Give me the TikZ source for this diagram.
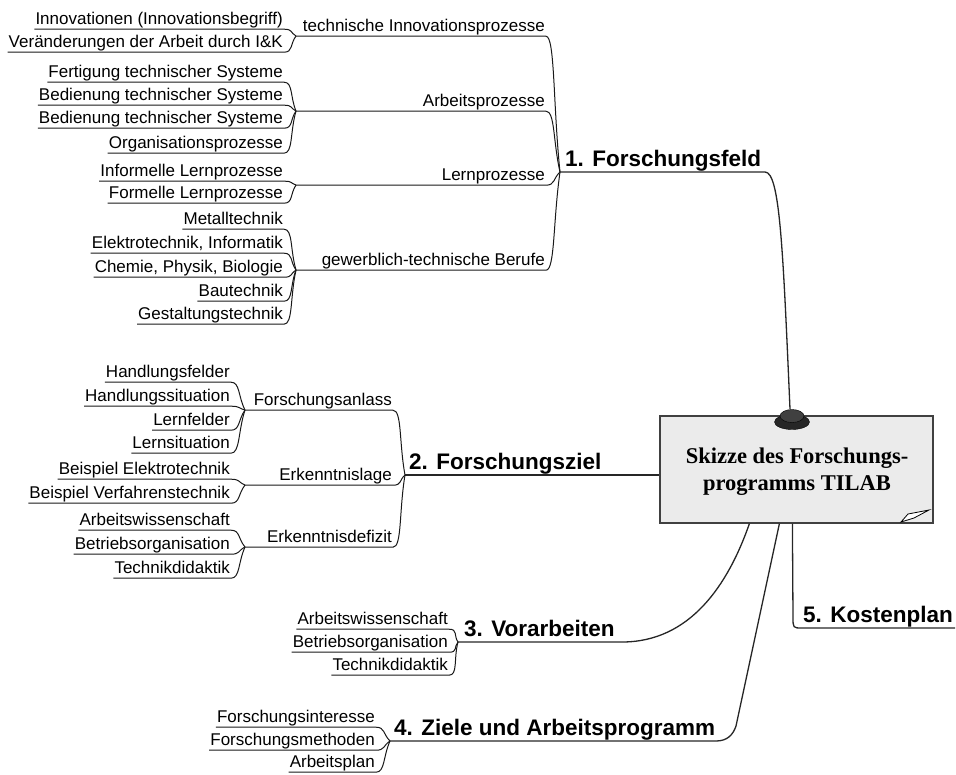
\documentclass[tikz,border=0pt]{standalone}
\usepackage{fontspec}
\setmainfont{Liberation Sans}
\newfontfamily\titlefont{Liberation Serif}
\usetikzlibrary{calc}

\tikzset{
  leaf/.style={font=\fontsize{17}{20}\selectfont, inner xsep=1pt, inner ysep=1pt,
               text depth=4pt, anchor=base east},
  branch/.style={leaf},
  mainlbl/.style={font=\fontsize{22.5}{26}\selectfont\bfseries, inner xsep=1pt,
                  inner ysep=1pt, text depth=5pt, anchor=base west},
  ln/.style={draw=black!90, line width=1pt},
  mainln/.style={draw=black!85, line width=1.3pt},
  br/.style={to path={.. controls ($(\tikztostart)+(9,0)$) and
             ($(\tikztotarget)!.5!(\tikztostart)$) .. (\tikztotarget)}},
  notebox/.style={draw=black!75, line width=1.2pt, fill=black!8,
                  minimum width=273pt, minimum height=107pt, inner sep=0pt},
  titletext/.style={font=\titlefont\bfseries\fontsize{22.5}{27}\selectfont, align=center},
}

\begin{document}
\begin{tikzpicture}[x=1pt,y=-1pt]
\useasboundingbox (0,0) rectangle (956,774);

% ---------- central note ----------
\node[notebox] (box) at (796.5,469.5) {};
\node[titletext] (title) at (797,472) {Skizze des Forschungs-\\programms TILAB};
% page curl in the lower right corner
\draw[line width=0.8pt, fill=white] (901,522) -- (908,514) -- (929,510) -- (914,518) -- cycle;
% pin on the top edge
\fill[black!85, draw=black] (792,422) ellipse [x radius=17.5pt, y radius=7.5pt];
\fill[black!75, draw=black] (792,416) ellipse [x radius=12pt, y radius=6.5pt];
\coordinate (pintop) at (790,409);

\coordinate (b3) at ($(box.south west)+(90,0)$);
\coordinate (b4) at ($(box.south west)+(120,0)$);
\coordinate (b5) at ($(box.south west)+(133,0)$);

% ---------- 1. Forschungsfeld ----------
\coordinate (J1) at (560,172);
\node[mainlbl] (m1) at (564,166) {1. Forschungsfeld};
\coordinate (m1e) at (765,172);
\draw[mainln] (J1) -- (m1e) .. controls (780,172) and (783,250) .. (pintop);

\coordinate (j1a) at (296,36);
\node[branch] (s1a) at (546,31) {technische Innovationsprozesse};
\draw[ln] (j1a) -- (s1a.south east) to[br] (J1);
\coordinate (j1b) at (296,111);
\node[branch] (s1b) at (546,106) {Arbeitsprozesse};
\draw[ln] (j1b) -- (s1b.south east) to[br] (J1);
\coordinate (j1c) at (296,185);
\node[branch] (s1c) at (546,180) {Lernprozesse};
\draw[ln] (j1c) -- (s1c.south east) to[br] (J1);
\coordinate (j1d) at (296,270);
\node[branch] (s1d) at (546,265) {gewerblich-technische Berufe};
\draw[ln] (j1d) -- (s1d.south east) to[br] (J1);

\node[leaf] (l1a1) at (284,24) {Innovationen (Innovationsbegriff)};
\draw[ln] (l1a1.south west) -- (l1a1.south east) to[br] (j1a);
\node[leaf] (l1a2) at (284,47) {Veränderungen der Arbeit durch I\&K};
\draw[ln] (l1a2.south west) -- (l1a2.south east) to[br] (j1a);

\node[leaf] (l1b1) at (284,77) {Fertigung technischer Systeme};
\draw[ln] (l1b1.south west) -- (l1b1.south east) to[br] (j1b);
\node[leaf] (l1b2) at (284,100) {Bedienung technischer Systeme};
\draw[ln] (l1b2.south west) -- (l1b2.south east) to[br] (j1b);
\node[leaf] (l1b3) at (284,123) {Bedienung technischer Systeme};
\draw[ln] (l1b3.south west) -- (l1b3.south east) to[br] (j1b);
\node[leaf] (l1b4) at (284,148) {Organisationsprozesse};
\draw[ln] (l1b4.south west) -- (l1b4.south east) to[br] (j1b);

\node[leaf] (l1c1) at (284,176) {Informelle Lernprozesse};
\draw[ln] (l1c1.south west) -- (l1c1.south east) to[br] (j1c);
\node[leaf] (l1c2) at (284,198) {Formelle Lernprozesse};
\draw[ln] (l1c2.south west) -- (l1c2.south east) to[br] (j1c);

\node[leaf] (l1d1) at (284,224) {Metalltechnik};
\draw[ln] (l1d1.south west) -- (l1d1.south east) to[br] (j1d);
\node[leaf] (l1d2) at (284,248) {Elektrotechnik, Informatik};
\draw[ln] (l1d2.south west) -- (l1d2.south east) to[br] (j1d);
\node[leaf] (l1d3) at (284,272) {Chemie, Physik, Biologie};
\draw[ln] (l1d3.south west) -- (l1d3.south east) to[br] (j1d);
\node[leaf] (l1d4) at (284,296) {Bautechnik};
\draw[ln] (l1d4.south west) -- (l1d4.south east) to[br] (j1d);
\node[leaf] (l1d5) at (284,319) {Gestaltungstechnik};
\draw[ln] (l1d5.south west) -- (l1d5.south east) to[br] (j1d);

% ---------- 2. Forschungsziel ----------
\coordinate (J2) at (405,475);
\node[mainlbl] (m2) at (408,469) {2. Forschungsziel};
\draw[mainln] (J2) -- (J2 -| box.west);

\coordinate (j2a) at (245,410);
\node[branch] (s2a) at (393,405) {Forschungsanlass};
\draw[ln] (j2a) -- (s2a.south east) to[br] (J2);
\coordinate (j2b) at (245,485);
\node[branch] (s2b) at (393,480) {Erkenntnislage};
\draw[ln] (j2b) -- (s2b.south east) to[br] (J2);
\coordinate (j2c) at (245,547);
\node[branch] (s2c) at (393,542) {Erkenntnisdefizit};
\draw[ln] (j2c) -- (s2c.south east) to[br] (J2);

\node[leaf] (l2a1) at (231,377) {Handlungsfelder};
\draw[ln] (l2a1.south west) -- (l2a1.south east) to[br] (j2a);
\node[leaf] (l2a2) at (231,401) {Handlungssituation};
\draw[ln] (l2a2.south west) -- (l2a2.south east) to[br] (j2a);
\node[leaf] (l2a3) at (231,425) {Lernfelder};
\draw[ln] (l2a3.south west) -- (l2a3.south east) to[br] (j2a);
\node[leaf] (l2a4) at (231,448) {Lernsituation};
\draw[ln] (l2a4.south west) -- (l2a4.south east) to[br] (j2a);

\node[leaf] (l2b1) at (231,474) {Beispiel Elektrotechnik};
\draw[ln] (l2b1.south west) -- (l2b1.south east) to[br] (j2b);
\node[leaf] (l2b2) at (231,498) {Beispiel Verfahrenstechnik};
\draw[ln] (l2b2.south west) -- (l2b2.south east) to[br] (j2b);

\node[leaf] (l2c1) at (231,525) {Arbeitswissenschaft};
\draw[ln] (l2c1.south west) -- (l2c1.south east) to[br] (j2c);
\node[leaf] (l2c2) at (231,549) {Betriebsorganisation};
\draw[ln] (l2c2.south west) -- (l2c2.south east) to[br] (j2c);
\node[leaf] (l2c3) at (231,573) {Technikdidaktik};
\draw[ln] (l2c3.south west) -- (l2c3.south east) to[br] (j2c);

% ---------- 3. Vorarbeiten ----------
\coordinate (J3) at (458,642);
\node[mainlbl] (m3) at (463,636) {3. Vorarbeiten};
\coordinate (m3e) at (622,642);
\draw[mainln] (J3) -- (m3e) .. controls (690,642) and (728,585) .. (b3);

\node[leaf] (l31) at (449,624) {Arbeitswissenschaft};
\draw[ln] (l31.south west) -- (l31.south east) to[br] (J3);
\node[leaf] (l32) at (449,647) {Betriebsorganisation};
\draw[ln] (l32.south west) -- (l32.south east) to[br] (J3);
\node[leaf] (l33) at (449,670) {Technikdidaktik};
\draw[ln] (l33.south west) -- (l33.south east) to[br] (J3);

% ---------- 4. Ziele und Arbeitsprogramm ----------
\coordinate (J4) at (390,741);
\node[mainlbl] (m4) at (393,735) {4. Ziele und Arbeitsprogramm};
\coordinate (m4e) at (716,741);
\draw[mainln] (J4) -- (m4e) .. controls (727,741) and (733,735) .. (736,726) -- (b4);

\node[leaf] (l41) at (376,722) {Forschungsinteresse};
\draw[ln] (l41.south west) -- (l41.south east) to[br] (J4);
\node[leaf] (l42) at (376,745) {Forschungsmethoden};
\draw[ln] (l42.south west) -- (l42.south east) to[br] (J4);
\node[leaf] (l43) at (376,767) {Arbeitsplan};
\draw[ln] (l43.south west) -- (l43.south east) to[br] (J4);

% ---------- 5. Kostenplan ----------
\node[mainlbl] (m5) at (802,622) {5. Kostenplan};
\coordinate (m5s) at (802,628);
\coordinate (m5e) at (955,628);
\draw[mainln] (b5) -- (793,617) .. controls (793,628) .. (m5s) -- (m5e);

\end{tikzpicture}
\end{document}
